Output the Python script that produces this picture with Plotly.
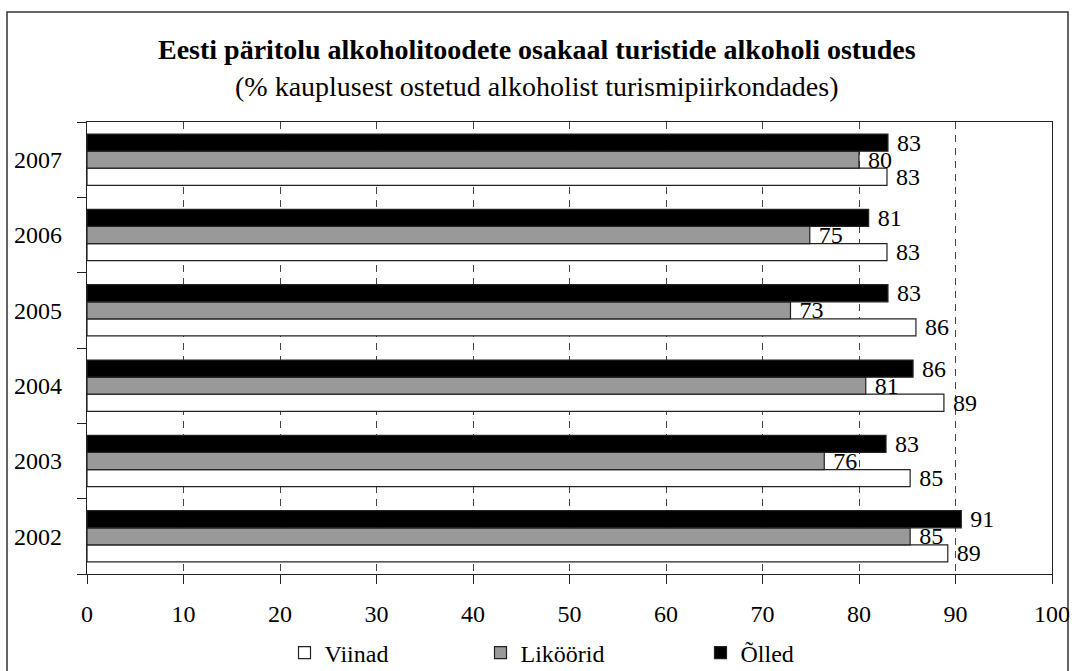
import plotly.graph_objects as go

years = ["2002", "2003", "2004", "2005", "2006", "2007"]
viinad = [89.2, 85.3, 88.8, 85.9, 82.9, 82.9]
likoorid = [85.3, 76.4, 80.7, 72.9, 74.9, 80.0]
olled = [90.6, 82.8, 85.6, 83.0, 81.0, 83.0]
series_names = ["Viinad", "Liköörid", "Õlled"]
series_colors = ["#ffffff", "#999999", "#000000"]
legend_widths = [151, 175, 160]
x_ticks = [0, 10, 20, 30, 40, 50, 60, 70, 80, 90, 100]
title_text = "Eesti päritolu alkoholitoodete osakaal turistide alkoholi ostudes"
subtitle_text = "(% kauplusest ostetud alkoholist turismipiirkondades)"

FONT = "Liberation Serif, Times New Roman, serif"

W, H = 1074, 671
ML, MR, MT, MB = 87, 22, 122, 97
PW, PH = W - ML - MR, H - MT - MB

def px_x(p):
    return (p - ML) / PW

def px_y(p):
    return (H - MB - p) / PH

fig = go.Figure()
for name, vals, col, lw in zip(series_names, [viinad, likoorid, olled], series_colors, legend_widths):
    fig.add_trace(go.Bar(
        y=years, x=vals, name=name, orientation="h",
        marker=dict(color=col, line=dict(color="#222222", width=1.2)),
        text=[f" {v:.0f}" for v in vals], textposition="outside",
        textfont=dict(family=FONT, size=24, color="#000000"),
        constraintext="none", cliponaxis=False, legendwidth=lw,
    ))

fig.update_layout(
    width=W, height=H,
    margin=dict(l=ML, r=MR, t=MT, b=MB, autoexpand=False),
    paper_bgcolor="#ffffff", plot_bgcolor="#ffffff",
    barmode="group", bargap=0.32, bargroupgap=0,
    font=dict(family=FONT, size=24, color="#000000"),
    showlegend=True,
    legend=dict(orientation="h", x=px_x(595), xanchor="center",
                y=px_y(653), yanchor="middle", bgcolor="rgba(0,0,0,0)",
                font=dict(family=FONT, size=24, color="#000000"),
                traceorder="normal", itemwidth=30),
    xaxis=dict(range=[0, 100], tickvals=x_ticks, ticktext=[str(t) for t in x_ticks],
               showgrid=True, gridcolor="#444444", griddash="7px,6px", gridwidth=1,
               showline=True, linecolor="#222222", linewidth=1.2, mirror=True,
               ticks="outside", ticklen=9, tickcolor="#222222", tickwidth=1.2,
               zeroline=False, tickfont=dict(family=FONT, size=24),
               ticklabelstandoff=9, automargin=False),
    yaxis=dict(type="category", categoryorder="array", categoryarray=years,
               showline=True, linecolor="#222222", linewidth=1.2, mirror=True,
               ticks="outside", ticklen=9, tickcolor="#222222", tickwidth=1.2,
               tickson="boundaries", showgrid=False, automargin=False,
               tickfont=dict(family=FONT, size=24), ticklabelstandoff=19),
    annotations=[
        dict(text="<b>" + title_text + "</b>", xref="paper", yref="paper",
             x=px_x(537), y=px_y(50), xanchor="center", yanchor="middle",
             showarrow=False, font=dict(family=FONT, size=28, color="#000000")),
        dict(text=subtitle_text, xref="paper", yref="paper",
             x=px_x(536), y=px_y(86), xanchor="center", yanchor="middle",
             showarrow=False, font=dict(family=FONT, size=28, color="#000000")),
    ],
    shapes=[dict(type="rect", xref="paper", yref="paper",
                 x0=px_x(7), x1=px_x(1068), y0=px_y(690), y1=px_y(12),
                 line=dict(color="#333333", width=1.5), layer="below")],
)

fig.write_html("out.html", config={"displayModeBar": False},
               post_script="document.body.style.margin='0';document.body.style.padding='0';")
